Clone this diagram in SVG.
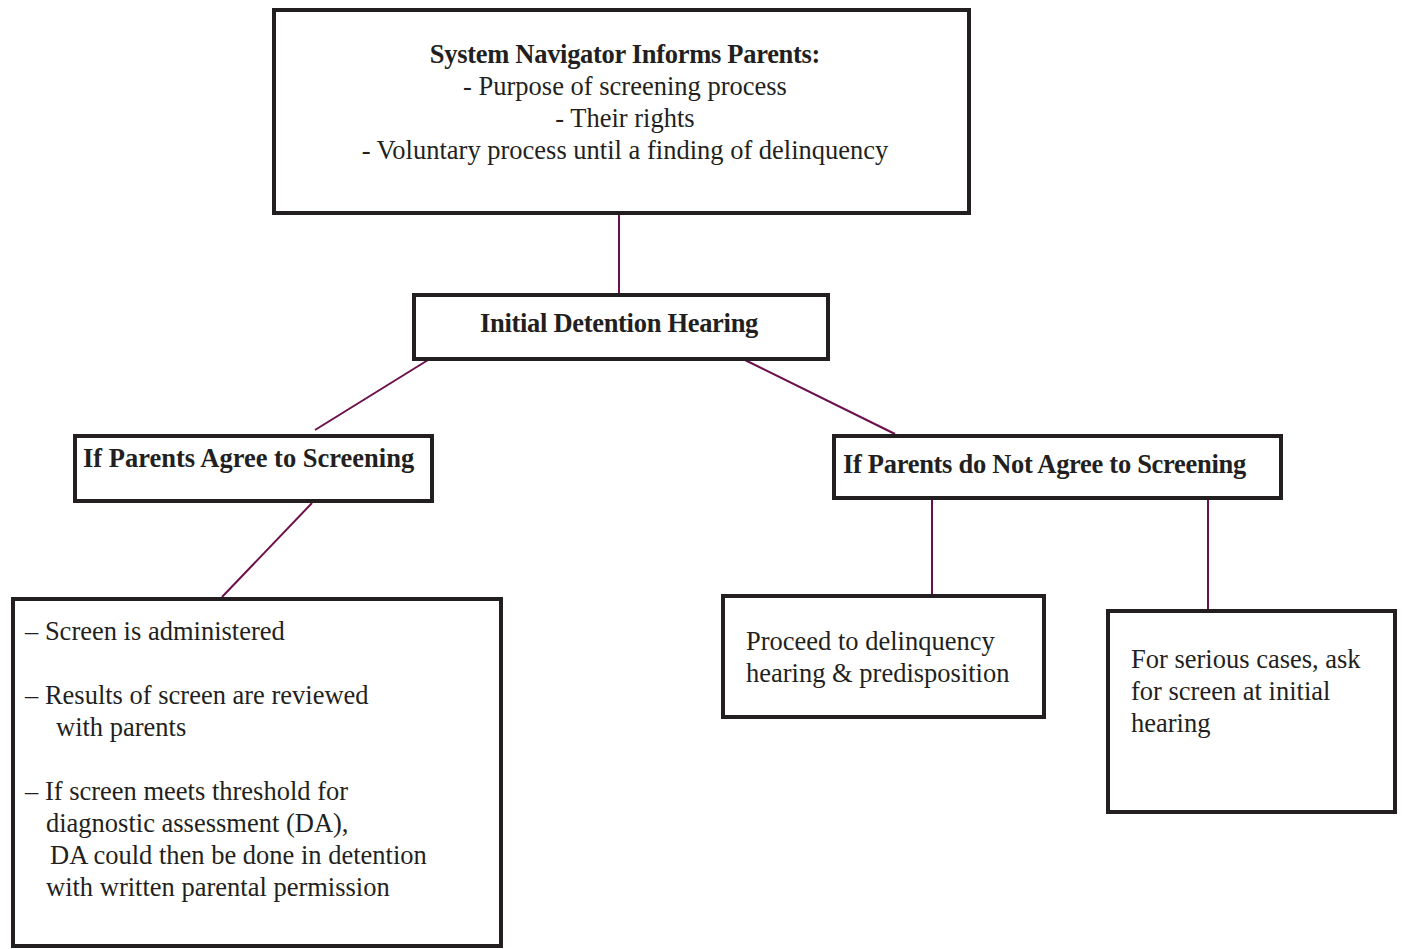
<svg xmlns="http://www.w3.org/2000/svg" width="1402" height="949" viewBox="0 0 1402 949">
<style>
.box{fill:#fff;stroke:#231f20;stroke-width:4}
.t{font-family:"Liberation Serif","Times New Roman",serif;font-size:26.5px;fill:#231f20}
.b{font-weight:bold;letter-spacing:-0.3px}
.c{text-anchor:middle}
.conn line{stroke:#6d0f4a;stroke-width:2}
</style>
<rect width="1402" height="949" fill="#fff"/>
<g class="conn">
<line x1="619" y1="215" x2="619" y2="293"/>
<line x1="428" y1="360" x2="315" y2="430"/>
<line x1="745" y1="360" x2="895" y2="434"/>
<line x1="312" y1="503" x2="222" y2="597"/>
<line x1="932" y1="500" x2="932" y2="594"/>
<line x1="1208" y1="500" x2="1208" y2="609"/>
</g>
<g id="navigator">
<rect class="box" x="274" y="10" width="695" height="203"/>
<text class="t b c" x="625" y="63">System Navigator Informs Parents:</text>
<text class="t c" x="625" y="95">- Purpose of screening process</text>
<text class="t c" x="625" y="127">- Their rights</text>
<text class="t c" x="625" y="159">- Voluntary process until a finding of delinquency</text>
</g>
<g id="hearing">
<rect class="box" x="414" y="295" width="414" height="64"/>
<text class="t b c" x="619" y="332">Initial Detention Hearing</text>
</g>
<g id="agree">
<rect class="box" x="75" y="436" width="357" height="65"/>
<text class="t b" x="83" y="467" style="letter-spacing:0">If Parents Agree to Screening</text>
</g>
<g id="notagree">
<rect class="box" x="834" y="436" width="447" height="62"/>
<text class="t b" x="843" y="473">If Parents do Not Agree to Screening</text>
</g>
<g id="screen">
<rect class="box" x="13" y="599" width="488" height="347"/>
<text class="t" x="25" y="640">– Screen is administered</text>
<text class="t" x="25" y="704">– Results of screen are reviewed</text>
<text class="t" x="56" y="736">with parents</text>
<text class="t" x="25" y="800">– If screen meets threshold for</text>
<text class="t" x="46" y="832">diagnostic assessment (DA),</text>
<text class="t" x="50" y="864">DA could then be done in detention</text>
<text class="t" x="46" y="896">with written parental permission</text>
</g>
<g id="proceed">
<rect class="box" x="723" y="596" width="321" height="121"/>
<text class="t" x="746" y="650">Proceed to delinquency</text>
<text class="t" x="746" y="682">hearing &amp; predisposition</text>
</g>
<g id="serious">
<rect class="box" x="1108" y="611" width="287" height="201"/>
<text class="t" x="1131" y="668">For serious cases, ask</text>
<text class="t" x="1131" y="700">for screen at initial</text>
<text class="t" x="1131" y="732">hearing</text>
</g>
</svg>
